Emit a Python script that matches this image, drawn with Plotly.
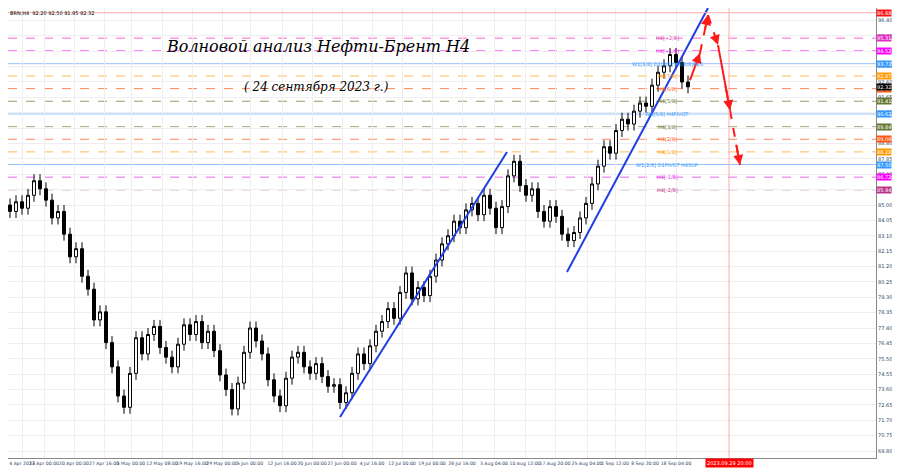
import plotly.graph_objects as go

closes = [85.0,84.6,85.2,84.8,85.6,86.5,86.0,85.3,84.2,84.6,83.2,81.8,82.3,80.6,79.8,77.9,78.4,76.5,75.0,73.2,
72.5,74.6,76.8,75.8,77.0,77.5,76.2,75.6,75.0,76.4,77.6,77.0,77.8,76.5,77.2,76.0,74.5,73.6,72.4,74.0,
75.9,77.4,76.6,75.8,74.2,73.2,72.6,74.3,75.6,75.9,75.0,74.6,75.2,74.4,73.8,73.9,72.8,73.4,74.6,75.8,
75.2,76.3,77.2,77.8,78.6,78.0,79.6,80.8,79.2,79.9,79.4,80.6,81.6,82.6,83.1,84.0,83.6,84.7,85.1,84.4,
85.6,84.8,83.6,84.9,86.8,87.7,86.2,85.6,86.0,84.6,84.0,84.9,84.3,83.2,82.8,83.3,84.2,85.1,86.3,87.4,
88.6,88.2,89.6,90.3,90.0,90.8,91.3,91.1,92.4,93.2,93.6,94.3,93.8,92.6,92.3]
bar_step = 6
wick = 0.4

levels = [95.31,94.52,93.73,92.97,92.19,91.41,90.62,89.84,89.06,88.28,87.50,86.72,85.94]
level_names = ["H4[+2/8]","H4[+1/8]","W1[3/8] D1[8/8] H4[8/8]RES","H4[7/8]","H4[6/8]","H4[5/8]",
"W1[5/8] H4PIVOT","H4[3/8]","H4[2/8]","H4[1/8]","W1[2/8] D1PIVOT H4SUP","H4[-1/8]","H4[-2/8]"]
level_colors = ["#ff66cc","#ff33ff","#99c2ff","#ffbb55","#ff8855","#999966","#99c2ff","#aaa888","#ff8855","#ffbb55","#99c2ff","#ee66ee","#cc6699"]
label_colors = ["#e040c0","#ee22ee","#3399ff","#ff9900","#ff5511","#667733","#3399ff","#667733","#ff5511","#ff9900","#3399ff","#ee22ee","#bb3388"]
box_colors = ["#e030c0","#ff00ff","#3399ff","#ff9900","#ff5511","#667733","#3399ff","#667733","#ff5511","#ff9900","#3399ff","#ff00ff","#bb3388"]

tick_pos = [20,42,72,102,129,160,190,220,248,280,310,340,370,400,430,460,492,523,553,585,613,643,674]
tick_text = ["4 Apr 2023","13 Apr 00:00","20 Apr 00:00","27 Apr 16:00","5 May 00:00","12 May 08:00","19 May 16:00",
"29 May 00:00","5 Jun 00:00","12 Jun 16:00","20 Jun 00:00","27 Jun 00:00","4 Jul 16:00","12 Jul 00:00","19 Jul 00:00",
"26 Jul 16:00","3 Aug 04:00","10 Aug 12:00","17 Aug 20:00","25 Aug 04:00","1 Sep 12:00","8 Sep 20:00","18 Sep 04:00"]

trend1 = ([338,505],[71.90,88.27])
trend2 = ([565,706],[80.86,97.17])
fc_x = [688,698,706,716,728,738]
fc_y = [92.72,94.39,96.73,94.88,90.86,87.47]
fc_dash = [False,True,True,False,True]
now_x = 727
last_price = 92.32
top_price = 96.88

xs = [2 + i*bar_step for i in range(len(closes))]
opens = [closes[0]] + closes[:-1]
highs = [max(o,c)+wick for o,c in zip(opens,closes)]
lows = [min(o,c)-wick for o,c in zip(opens,closes)]

fig = go.Figure()
fig.add_trace(go.Candlestick(x=xs, open=opens, high=highs, low=lows, close=closes,
    increasing=dict(line=dict(color="black", width=1), fillcolor="white"),
    decreasing=dict(line=dict(color="black", width=1), fillcolor="black"),
    whiskerwidth=0, showlegend=False, hoverinfo="skip"))

for lv, nm, lc, tc, bc in zip(levels, level_names, level_colors, label_colors, box_colors):
    solid = "W1" in nm
    fig.add_shape(type="line", xref="paper", x0=0, x1=1, y0=lv, y1=lv,
                  line=dict(color=lc, width=1, dash="solid" if solid else "dash"), layer="below")
    fig.add_annotation(x=665, y=lv, text=nm, showarrow=False, font=dict(size=5, color=tc), yshift=0)
    fig.add_annotation(xref="paper", x=1.0, y=lv, text=f"{lv:.2f}", showarrow=False, xanchor="left",
                       bgcolor=bc, font=dict(size=5, color="white"), borderpad=0)

fig.add_shape(type="line", xref="paper", x0=0, x1=1, y0=top_price, y1=top_price, line=dict(color="#ffaaaa", width=1))
fig.add_annotation(xref="paper", x=1.0, y=top_price, text=f"{top_price:.2f}", showarrow=False, xanchor="left",
                   bgcolor="#ff1111", font=dict(size=5, color="white"), borderpad=0)
fig.add_annotation(xref="paper", x=1.0, y=last_price, text=f"{last_price:.2f}", showarrow=False, xanchor="left",
                   bgcolor="black", font=dict(size=5, color="white"), borderpad=0)

fig.add_shape(type="line", x0=now_x, x1=now_x, yref="paper", y0=0, y1=1, line=dict(color="#ffaaaa", width=1))
fig.add_annotation(x=now_x, yref="paper", y=0, yanchor="top", text="2023.09.29 20:00", showarrow=False,
                   bgcolor="#ff0000", font=dict(size=5, color="white"), borderpad=1)

for tx, ty in (trend1, trend2):
    fig.add_trace(go.Scatter(x=tx, y=ty, mode="lines", line=dict(color="#1f3fe0", width=2), showlegend=False, hoverinfo="skip"))

for i in range(len(fc_x)-1):
    fig.add_trace(go.Scatter(x=fc_x[i:i+2], y=fc_y[i:i+2], mode="lines",
        line=dict(color="#ff1a1a", width=2, dash="dash" if fc_dash[i] else "solid"), showlegend=False, hoverinfo="skip"))
    fig.add_annotation(x=fc_x[i+1], y=fc_y[i+1], ax=fc_x[i]+(fc_x[i+1]-fc_x[i])*0.6, ay=fc_y[i]+(fc_y[i+1]-fc_y[i])*0.6,
        axref="x", ayref="y", showarrow=True, arrowhead=2, arrowsize=1, arrowwidth=2, arrowcolor="#ff1a1a", text="")

fig.add_annotation(xref="paper", yref="paper", x=0.18, y=0.94, xanchor="left", showarrow=False,
    text="<i>Волновой анализ Нефти-Брент H4</i>", font=dict(family="DejaVu Serif", size=16, color="black"))
fig.add_annotation(xref="paper", yref="paper", x=0.355, y=0.845, showarrow=False,
    text="<i>( 24 сентября 2023 г.)</i>", font=dict(family="DejaVu Serif", size=12, color="black"))
fig.add_annotation(xref="paper", yref="paper", x=0.0, y=1.0, xanchor="left", yanchor="top", showarrow=False,
    text="BRN,H4  92.20 92.50 91.95 92.32", font=dict(size=5, color="black"))

yt = [round(69.80+0.95*i, 2) for i in range(30)]
fig.update_layout(width=900, height=460, margin=dict(l=0, r=32, t=0, b=10),
    plot_bgcolor="white", paper_bgcolor="white", font=dict(family="DejaVu Sans"),
    xaxis=dict(range=[6,874], tickvals=tick_pos, ticktext=tick_text, tickfont=dict(size=4.6), tickangle=0, automargin=False,
               rangeslider=dict(visible=False),
               showgrid=True, gridcolor="#eeeeee", zeroline=False, showline=True, linecolor="#888888", ticks=""),
    yaxis=dict(range=[69.37,97.17], side="right", tickvals=yt, ticktext=[f"{v:.2f}" for v in yt], tickfont=dict(size=5),
               automargin=False,
               showgrid=True, gridcolor="#eeeeee", zeroline=False, showline=True, linecolor="#888888", ticks=""))
fig.write_html("out.html")
